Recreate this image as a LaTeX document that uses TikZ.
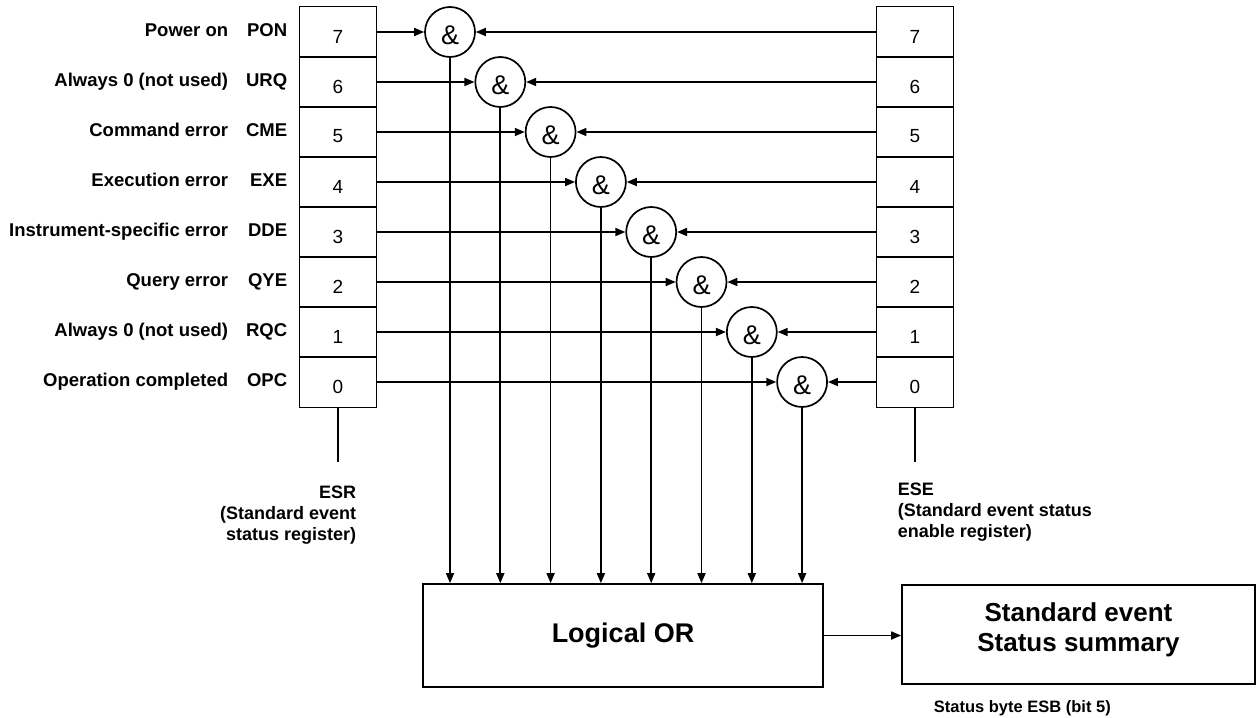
\documentclass[tikz,border=0pt]{standalone}
\usepackage{fontspec}
\setmainfont{Liberation Sans}
\usetikzlibrary{arrows.meta}
\begin{document}
\begin{tikzpicture}[x=1pt,y=-1pt,line width=1.7pt,
  cell/.style={draw, minimum width=77pt, minimum height=51pt, inner sep=0pt,
    font=\fontsize{19}{21}\selectfont},
  gate/.style={draw, circle, minimum size=50pt, inner sep=0pt,
    font=\fontsize{27}{29}\selectfont},
  lbl/.style={font=\bfseries\fontsize{18.5}{20}\selectfont, anchor=base east, inner sep=0pt},
  note/.style={font=\bfseries\fontsize{18}{21}\selectfont, inner sep=0pt},
  bigbox/.style={draw, inner sep=0pt},
  arr/.style={-{Triangle[length=10pt,width=8pt]}}]
\useasboundingbox (0,0) rectangle (1257,717);

\node[bigbox, minimum width=400pt, minimum height=103pt,
  font=\bfseries\fontsize{27}{29}\selectfont] (OR) at (623,635.5) {Logical OR};
\node[bigbox, minimum width=353pt, minimum height=99pt] (SUM) at (1078.5,634.5) {};
\node[font=\bfseries\fontsize{26}{30}\selectfont, align=center, inner sep=0pt] (SUMT)
  at (1078.5,630) {Standard event\\Status summary};
\draw[arr] (OR.east) -- (OR.east -| SUM.west);

\foreach \b in {7,6,...,0} {
  \pgfmathsetmacro\k{7-\b}
  \pgfmathsetmacro\yy{32+50*\k}
  \pgfmathsetmacro\xx{450+50.3*\k}
  \node[cell] (L\b) at (338,\yy) {\raisebox{-4.5pt}[\height][\depth]{\b}};
  \node[cell] (R\b) at (915,\yy) {\raisebox{-4.5pt}[\height][\depth]{\b}};
  \node[gate] (G\b) at (\xx,\yy) {\raisebox{-3pt}[\height][\depth]{\&}};
  \draw[arr] (L\b.east) -- (G\b.west);
  \draw[arr] (R\b.west) -- (G\b.east);
  \draw[arr] (G\b.south) -- (G\b.south |- OR.north);
}

\foreach \b/\d/\c in {7/Power on/PON, 6/Always 0 (not used)/URQ, 5/Command error/CME,
  4/Execution error/EXE, 3/Instrument-specific error/DDE, 2/Query error/QYE,
  1/Always 0 (not used)/RQC, 0/Operation completed/OPC} {
  \pgfmathsetmacro\yy{32+50*(7-\b)+4.5}
  \node[lbl] (D\b) at (229,\yy) {\d};
  \node[lbl] (C\b) at (288,\yy) {\c};
}

\draw (L0.south) -- ++(0,54);
\draw (R0.south) -- ++(0,54);

\node[note, align=right, anchor=north east] (ESR) at (357,485)
  {ESR\\(Standard event\\status register)};
\node[note, align=left, anchor=north west] (ESE) at (897,482)
  {ESE\\(Standard event status\\enable register)};
\node[font=\bfseries\fontsize{16.5}{18}\selectfont, anchor=base west, inner sep=0pt] (ESB)
  at (933,712) {Status byte ESB (bit 5)};
\end{tikzpicture}
\end{document}
